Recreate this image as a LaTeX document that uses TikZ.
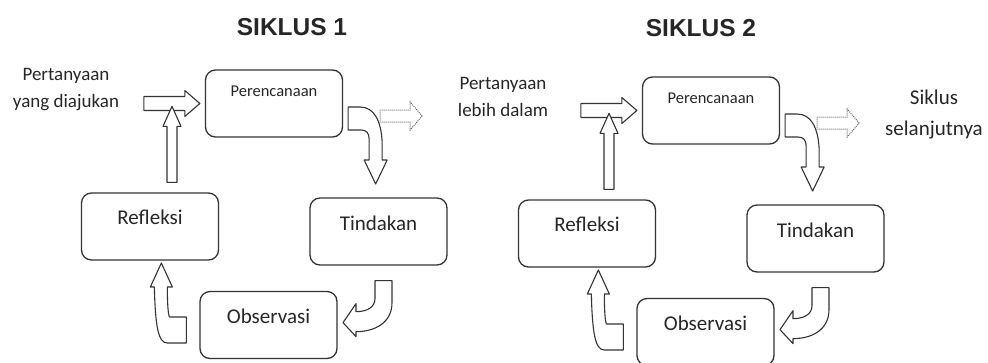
\documentclass[tikz,border=0pt]{standalone}
\usepackage{fontspec}
\setmainfont{Carlito}
\newfontfamily\titlefont{Liberation Sans}
\usetikzlibrary{calc,positioning}

\tikzset{
  stage/.style={draw=black!80, line width=1.3pt, rounded corners=10pt, minimum width=137pt, minimum height=67pt, inner sep=0pt},
  stagetext/.style={font=\fontsize{21}{25}\selectfont, text=black!85, inner sep=0pt},
  plantext/.style={font=\fontsize{16.5}{20}\selectfont, text=black!85, inner sep=0pt},
  sidetext/.style={align=center, font=\fontsize{19}{27}\selectfont, text=black!85, inner sep=0pt},
  nexttext/.style={align=center, font=\fontsize{21}{31}\selectfont, text=black!85, inner sep=0pt},
  cycletitle/.style={font=\titlefont\bfseries\fontsize{24.5}{28}\selectfont, text=black!85, inner sep=0pt},
  blockarrow/.style={draw=black!80, line width=1.1pt, fill=white, line join=round},
  dotarrow/.style={draw=black!60, densely dotted, line width=1pt, fill=white},
  % block arrows, local pixel coordinates
  pics/inarrow/.style={code={\draw[blockarrow] (0,0) -- (-15,-13) -- (-15,-7) -- (-56,-7) -- (-56,7) -- (-15,7) -- (-15,13) -- cycle;}},
  pics/uparrow/.style={code={\draw[blockarrow] (-5,0) -- (-5,-56) -- (-9,-56) -- (0,-76) -- (9,-56) -- (5,-56) -- (5,0) -- cycle;}},
  pics/downturn/.style={code={\draw[blockarrow] (0,0) -- (12,0) .. controls (26,0) and (33,14) .. (34,35) -- (34,53) -- (39,53) -- (27.5,77) -- (16,53) -- (21,53) -- (21,32) .. controls (21,26) and (18,23) .. (13,23) -- (0,23) -- cycle;}},
  pics/leftturn/.style={code={\draw[blockarrow] (0,0) -- (17,0) -- (17,22) .. controls (17,42) and (0,51) .. (-19,51) -- (-19,56) -- (-32,42) -- (-19,23) -- (-19,31) .. controls (-7,31) and (0,26) .. (0,18) -- cycle;}},
  pics/upturn/.style={code={\draw[blockarrow] (0,0) -- (0,26) -- (-19,26) .. controls (-28,26) and (-31,10) .. (-32,-30) -- (-36,-30) -- (-25,-54) -- (-14,-30) -- (-19,-30) .. controls (-19,-10) and (-18,-3) .. (-17,0) -- cycle;}},
  pics/nextarrow/.style={code={\draw[dotarrow] (0,0) -- (-12,-14) -- (-12,-6) -- (-42,-6) -- (-42,6) -- (-12,6) -- (-12,14) -- cycle;}}
}

\begin{document}
\begin{tikzpicture}[x=1pt, y=-1pt]
  \useasboundingbox (0,0) rectangle (988,362);

  \node[cycletitle] (title1) at (292,27) {SIKLUS 1};
  \node[cycletitle] (title2) at (701,28) {SIKLUS 2};

  % siklus 1
  \begin{scope}
    \node[stage] (plan1) at (274,103.5) {};
    \node[plantext] (plan1txt) at ([yshift=-22pt]plan1.north) {Perencanaan};
    \node[stage] (act1) at (378.5,231.5) {};
    \node[stagetext] (act1txt) at ([yshift=-26pt]act1.north) {Tindakan};
    \node[stage] (obs1) at (268.5,325) {};
    \node[stagetext] (obs1txt) at ([yshift=-25pt]obs1.north) {Observasi};
    \node[stage] (refl1) at (150,226.5) {};
    \node[stagetext] (refl1txt) at ([yshift=-25pt]refl1.north) {Refleksi};
    \node[sidetext] (ask1) at (66,89.5) {Pertanyaan\\yang diajukan};

    \pic at ([xshift=-5pt]plan1.west) {inarrow};
    \pic at ([xshift=22pt,yshift=10pt]refl1.north) {uparrow};
    \pic at ([xshift=5pt,yshift=-3.5pt]plan1.east) {downturn};
    \pic at ([xshift=79pt,yshift=-12.5pt]plan1.east) {nextarrow};
    \pic at ([xshift=-3.5pt,yshift=-15pt]act1.south) {leftturn};
    \pic at ([xshift=-13pt,yshift=8pt]obs1.west) {upturn};
  \end{scope}

  % siklus 2
  \begin{scope}[shift={(437,7)}]
    \node[stage] (plan2) at (274,103.5) {};
    \node[plantext] (plan2txt) at ([yshift=-22pt]plan2.north) {Perencanaan};
    \node[stage] (act2) at (378.5,231.5) {};
    \node[stagetext] (act2txt) at ([yshift=-26pt]act2.north) {Tindakan};
    \node[stage] (obs2) at (268.5,325) {};
    \node[stagetext] (obs2txt) at ([yshift=-25pt]obs2.north) {Observasi};
    \node[stage] (refl2) at (150,226.5) {};
    \node[stagetext] (refl2txt) at ([yshift=-25pt]refl2.north) {Refleksi};
    \node[sidetext] (ask2) at (66,89.5) {Pertanyaan\\lebih dalam};
    \node[nexttext] (next2) at (497,107.5) {Siklus\\selanjutnya};

    \pic at ([xshift=-5pt]plan2.west) {inarrow};
    \pic at ([xshift=22pt,yshift=10pt]refl2.north) {uparrow};
    \pic at ([xshift=5pt,yshift=-3.5pt]plan2.east) {downturn};
    \pic at ([xshift=79pt,yshift=-12.5pt]plan2.east) {nextarrow};
    \pic at ([xshift=-3.5pt,yshift=-15pt]act2.south) {leftturn};
    \pic at ([xshift=-13pt,yshift=8pt]obs2.west) {upturn};
  \end{scope}
\end{tikzpicture}
\end{document}
